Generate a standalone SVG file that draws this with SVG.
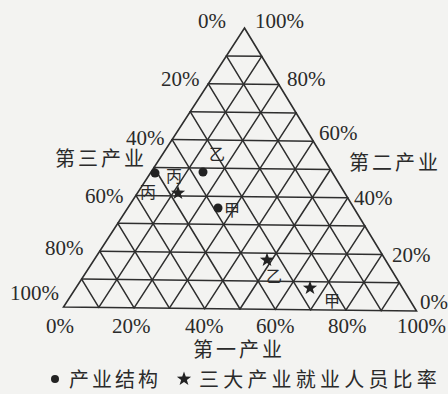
<svg xmlns="http://www.w3.org/2000/svg" width="448" height="394" viewBox="0 0 448 394">
<defs>
<style>
.grid line{stroke:#2e2e2e;stroke-width:1.5;stroke-linecap:round}
.edge{fill:none;stroke:#2e2e2e;stroke-width:1.6;stroke-linejoin:miter}
.pct{font-family:"Liberation Serif","Noto Sans CJK SC",serif;font-size:21px;fill:#2a2a2a}
.cn{font-family:"Liberation Serif","Noto Sans CJK SC",serif;font-size:20px;fill:#2a2a2a;letter-spacing:3px}
.tag{font-family:"Liberation Serif","Noto Sans CJK SC",serif;font-size:16px;fill:#2a2a2a}
.dot{fill:#222}
.star{fill:#222}
</style>
<path id="star" d="M0,-7.5 L1.763,-2.427 L7.133,-2.318 L2.853,0.927 L4.408,6.068 L0,3 L-4.408,6.068 L-2.853,0.927 L-7.133,-2.318 L-1.763,-2.427 Z"/>
</defs>
<rect width="448" height="394" fill="#f3f3f1"/>
<g id="grid" class="grid">
<line x1="81.6" y1="279.1" x2="399.3" y2="282.7"/>
<line x1="99.7" y1="251.2" x2="382.1" y2="254.4"/>
<line x1="117.8" y1="223.3" x2="364.9" y2="226.1"/>
<line x1="135.9" y1="195.4" x2="347.7" y2="197.8"/>
<line x1="154" y1="167.5" x2="330.5" y2="169.5"/>
<line x1="172.1" y1="139.6" x2="313.3" y2="141.2"/>
<line x1="190.2" y1="111.7" x2="296.1" y2="112.9"/>
<line x1="208.3" y1="83.8" x2="278.9" y2="84.6"/>
<line x1="226.4" y1="55.9" x2="261.7" y2="56.3"/>
<line x1="98.8" y1="307.4" x2="261.7" y2="56.3"/>
<line x1="134.1" y1="307.8" x2="278.9" y2="84.6"/>
<line x1="169.4" y1="308.2" x2="296.1" y2="112.9"/>
<line x1="204.7" y1="308.6" x2="313.3" y2="141.2"/>
<line x1="240" y1="309" x2="330.5" y2="169.5"/>
<line x1="275.3" y1="309.4" x2="347.7" y2="197.8"/>
<line x1="310.6" y1="309.8" x2="364.9" y2="226.1"/>
<line x1="345.9" y1="310.2" x2="382.1" y2="254.4"/>
<line x1="381.2" y1="310.6" x2="399.3" y2="282.7"/>
<line x1="381.2" y1="310.6" x2="226.4" y2="55.9"/>
<line x1="345.9" y1="310.2" x2="208.3" y2="83.8"/>
<line x1="310.6" y1="309.8" x2="190.2" y2="111.7"/>
<line x1="275.3" y1="309.4" x2="172.1" y2="139.6"/>
<line x1="240" y1="309" x2="154" y2="167.5"/>
<line x1="204.7" y1="308.6" x2="135.9" y2="195.4"/>
<line x1="169.4" y1="308.2" x2="117.8" y2="223.3"/>
<line x1="134.1" y1="307.8" x2="99.7" y2="251.2"/>
<line x1="98.8" y1="307.4" x2="81.6" y2="279.1"/>
<polygon class="edge" points="244.5,28 416.5,311 63.5,307"/>
</g>
<g id="axis-left" class="pct">
<text x="198" y="28">0%</text>
<text x="161" y="86">20%</text>
<text x="126" y="145">40%</text>
<text x="85" y="203">60%</text>
<text x="45" y="255">80%</text>
<text x="10" y="300">100%</text>
</g>
<g id="axis-right" class="pct">
<text x="255" y="28">100%</text>
<text x="287" y="86">80%</text>
<text x="319" y="140">60%</text>
<text x="354" y="205">40%</text>
<text x="392" y="262">20%</text>
<text x="420" y="309">0%</text>
</g>
<g id="axis-bottom" class="pct">
<text x="46" y="333">0%</text>
<text x="112" y="333">20%</text>
<text x="185" y="333">40%</text>
<text x="256" y="333">60%</text>
<text x="328" y="333">80%</text>
<text x="397" y="333">100%</text>
</g>
<g id="axis-titles" class="cn">
<text x="55" y="166">第三产业</text>
<text x="349" y="170">第二产业</text>
<text x="193" y="357">第一产业</text>
</g>
<g id="structure-points">
<g id="dot-bing"><circle class="dot" cx="155" cy="173" r="4.5"/><text class="tag" x="166" y="182">丙</text></g>
<g id="dot-yi"><circle class="dot" cx="203" cy="172" r="4.5"/><text class="tag" x="209" y="160">乙</text></g>
<g id="dot-jia"><circle class="dot" cx="218" cy="208" r="4.5"/><text class="tag" x="224" y="216">甲</text></g>
</g>
<g id="employment-points">
<g id="star-bing"><use href="#star" class="star" x="178" y="193"/><text class="tag" x="140" y="198">丙</text></g>
<g id="star-yi"><use href="#star" class="star" x="267" y="260"/><text class="tag" x="266" y="282">乙</text></g>
<g id="star-jia"><use href="#star" class="star" x="310" y="288"/><text class="tag" x="324" y="307">甲</text></g>
</g>
<g id="legend">
<circle class="dot" cx="55" cy="379" r="4"/>
<text class="cn" x="69" y="387">产业结构</text>
<use href="#star" class="star" x="184" y="379"/>
<text class="cn" x="199" y="387" style="letter-spacing:4.2px">三大产业就业人员比率</text>
</g>
</svg>
